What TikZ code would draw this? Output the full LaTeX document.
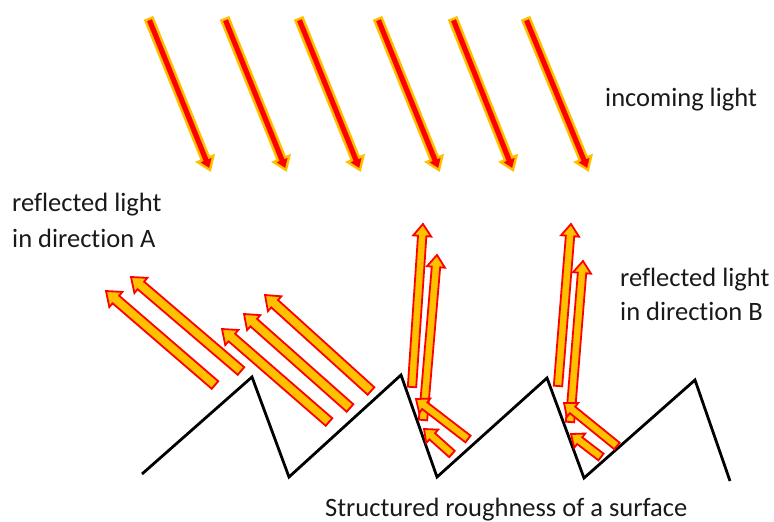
\documentclass[tikz,border=0pt]{standalone}
\usepackage{fontspec}
\setmainfont{Carlito}[Ligatures=NoCommon]
\usetikzlibrary{calc}
\definecolor{lred}{RGB}{255,0,0}
\definecolor{lorange}{RGB}{255,192,0}
\tikzset{
  inlight/.style={fill=lred, draw=lorange, line width=2.4pt, line join=miter},
  outlight/.style={fill=lorange, draw=lred, line width=1.8pt, line join=miter},
  surface/.style={draw=black, line width=2.8pt, line join=miter},
  lbl/.style={font=\fontsize{26.5}{32}\selectfont, text=black!90, anchor=base west, inner sep=0pt}
}
% #1 style, #2 tail, #3 tip, #4 shaft half width, #5 head half width, #6 head length
\newcommand\blockarrow[6]{%
  \coordinate (bT) at (#2);
  \coordinate (bP) at (#3);
  \coordinate (bH) at ($(bP)!#6!(bT)$);
  \draw[#1] ($(bT)!#4!90:(bP)$) -- ($(bH)!#4!90:(bP)$) -- ($(bH)!#5!90:(bP)$)
    -- (bP) -- ($(bH)!#5!-90:(bP)$) -- ($(bH)!#4!-90:(bP)$) -- ($(bT)!#4!-90:(bP)$) -- cycle;
}
\begin{document}
\begin{tikzpicture}[x=1pt,y=-1pt]
\useasboundingbox (0,0) rectangle (774,522);
% surface
\draw[surface] (142,474) -- (252,377) -- (289,477) -- (401,375) -- (437,477)
  -- (547,378) -- (584,478) -- (695,380) -- (730,481);
% incoming light
\blockarrow{inlight}{149,19}{210,170}{3.9pt}{8.5pt}{12pt}
\blockarrow{inlight}{225,19}{286,170}{3.9pt}{8.5pt}{12pt}
\blockarrow{inlight}{299,19}{360,170}{3.9pt}{8.5pt}{12pt}
\blockarrow{inlight}{378,19}{439,170}{3.9pt}{8.5pt}{12pt}
\blockarrow{inlight}{453,19}{513,170}{3.9pt}{8.5pt}{12pt}
\blockarrow{inlight}{526,19}{588,170}{3.9pt}{8.5pt}{12pt}
% reflected in direction A
\blockarrow{outlight}{215,385}{106,291}{5pt}{10pt}{13pt}
\blockarrow{outlight}{241,371}{131,277}{5pt}{10pt}{13pt}
\blockarrow{outlight}{329,422}{222,329}{5pt}{10pt}{13pt}
\blockarrow{outlight}{350,408}{244,314}{5pt}{10pt}{13pt}
\blockarrow{outlight}{371,391}{265,295}{5pt}{10pt}{13pt}
% reflected in direction B
\blockarrow{outlight}{412,387}{423,224}{4.2pt}{9pt}{12pt}
\blockarrow{outlight}{423,420}{437,255}{4.2pt}{9pt}{12pt}
\blockarrow{outlight}{558,386}{571,224}{4.2pt}{9pt}{12pt}
\blockarrow{outlight}{570,422}{583,261}{4.2pt}{9pt}{12pt}
\blockarrow{outlight}{468,439}{416,399}{4.2pt}{9pt}{11pt}
\blockarrow{outlight}{452,454}{424,429}{4.2pt}{9pt}{11pt}
\blockarrow{outlight}{617,446}{564,403}{4.2pt}{9pt}{11pt}
\blockarrow{outlight}{601,457}{571,434}{4.2pt}{9pt}{11pt}
% labels
\node[lbl] (tin) at (605,106) {incoming light};
\node[lbl] (tA1) at (12,211) {reflected light};
\node[lbl] (tA2) at (12,247) {in direction A};
\node[lbl] (tB1) at (620,286) {reflected light};
\node[lbl] (tB2) at (620,320) {in direction B};
\node[lbl] (tsurf) at (325,516) {Structured roughness of a surface};
\end{tikzpicture}
\end{document}
